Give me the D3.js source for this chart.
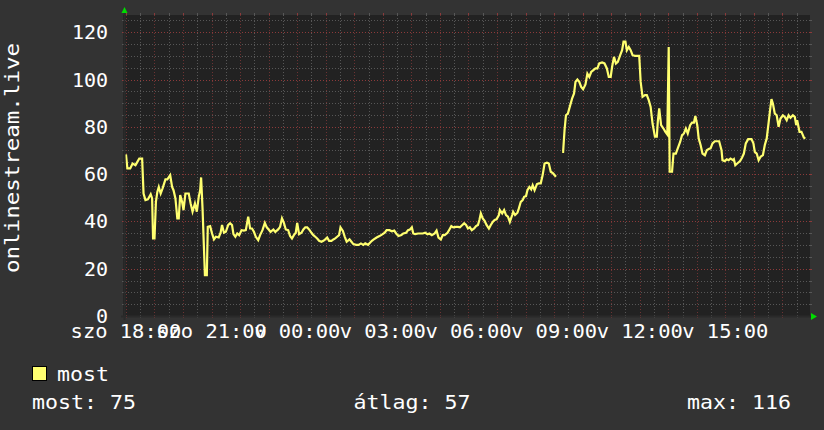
<!DOCTYPE html>
<html><head><meta charset="utf-8">
<script src="https://cdn.jsdelivr.net/npm/d3@7"></script>
<style>html,body{margin:0;padding:0;background:#333333;} svg{display:block}</style>
</head><body><svg id="c" width="824" height="430"></svg>
<script>
// minutes since Saturday 18:00
const sampleMinutes = [
0,3,9,14,20,24,28,34,37,41,
46,52,55,57,60,63,66,69,73,77,
83,87,93,97,100,104,108,111,114,118,
121,125,132,136,140,145,149,153,156,158,
161,166,170,172,177,181,185,189,195,199,
202,206,210,215,219,223,226,230,234,238,
243,248,252,257,261,265,269,273,278,282,
287,292,296,300,304,310,314,320,324,328,
332,336,341,345,349,353,357,360,364,369,
373,377,381,385,390,394,398,402,406,411,
415,419,423,427,432,436,440,444,448,451,
456,460,464,470,474,478,484,489,494,499,
503,509,513,517,521,527,533,538,544,548,
554,559,564,568,573,579,583,589,593,597,
601,604,608,614,618,624,629,634,638,643,
649,653,657,662,666,670,676,680,684,688,
694,698,702,706,711,715,719,723,727,732,
736,740,743,746,750,754,758,763,767,771,
775,779,784,786,791,795,799,803,807,812,
814,818,823,826,830,834,837,841,844,848,
852,855,859,864,868,872,876,880,885,889,
893,898,904,910,917,919,922,925,929,934,
938,942,945,949,953,957,961,966,970,974,
978,982,987,991,995,1001,1006,1011,1015,1019,
1022,1026,1030,1034,1039,1043,1046,1050,1053,1057,
1061,1065,1070,1075,1079,1082,1086,1091,1095,1099,
1103,1107,1112,1116,1118,1121,1125,1130,1134,1138,
1141,1143,1148,1151,1156,1160,1165,1169,1173,1177,
1181,1186,1190,1194,1197,1201,1204,1208,1212,1217,
1221,1225,1229,1233,1238,1242,1247,1252,1254,1259,
1263,1267,1271,1276,1278,1281,1285,1291,1295,1299,
1303,1308,1315,1319,1322,1326,1330,1334,1339,1343,
1347,1351,1354,1357,1360,1364,1368,1372,1376,1381,
1385,1389,1393,1397,1402,1406,1409,1411,1416,1420,
1423,1425,1428
];
const sampleValues = [
68.4,62.4,62.4,64.5,63.8,65.2,66.6,66.6,51.8,49,
49.3,51.5,49.7,32.8,32.8,48.3,52.5,54.6,51.8,54,
57.8,57.8,59.6,54.6,53.2,49.7,41.3,41.3,51.1,48.3,
44.8,51.8,51.8,47.6,44.1,47.6,44.1,50.4,53.2,58.6,
45.5,17.3,17.3,37.7,38,34.9,32.4,33.5,33.2,35.2,
38.5,35.2,35.6,38.5,39.2,38.5,34.6,33.5,34.9,34.2,
36.3,36.1,36.3,42,37,37,35.6,33.5,32.1,34.2,
36.3,39.4,37.5,36.6,35.6,36.6,35.6,36.6,37.7,41.3,
39.4,36.6,36.3,33.8,32.8,34.2,35.2,39.4,34.6,35.2,
36.6,37.5,37.5,36.6,35.2,34.2,33.5,32.8,31.8,31.4,
31.8,32.4,33.2,31.8,31.8,32.4,32.8,33.5,34.2,37.5,
36,33.5,31.4,32.4,31.4,30.4,30.1,30.1,30.7,30.1,
30.7,30.1,31,31.8,32.4,33.2,33.8,34.4,35.2,36.3,
36.3,35.8,36.1,34.9,33.8,34.2,34.9,35.2,36.3,36.6,
37.5,34.9,34.6,34.9,34.9,34.9,35.2,34.6,34.9,34.2,
34.9,36.1,33.2,32.4,34.2,34.2,35.2,36.6,38,37.5,
37.7,37.7,37.5,38.3,39.2,38.5,37,37.5,36.3,37,
38,38.5,40.6,43.4,41.3,40.3,38.5,37,38.5,39.8,
40.6,40.9,42.7,44.8,43.4,44.8,42.7,42,39.8,42.7,
44.1,42.7,43.7,45.5,48.3,49,50.4,50.7,53.2,54.6,
53.5,55.3,53.2,55.8,56.1,56.1,59.6,64.5,64.8,64.5,
61,60.3,58.9,null,69.4,69.4,78.6,84.9,85.6,89.2,
92,94.1,99,100,99,96.9,95.9,97.9,102.5,101.1,
103.2,103.9,104.7,104.7,106.8,107.2,106.8,104.7,101.1,101.1,
105.4,109.6,106.8,107.5,110.3,112.4,116,116,112.4,113.8,
112.4,110.3,110,110,110,99,92.7,93.4,93.4,91.3,
88.4,81.4,75.8,75.8,82.1,87.8,80.7,79.3,77.9,76.8,
113.8,61,61,68.7,68.7,70.9,73.6,76.5,77.2,79.3,
77.2,80.7,81.8,81.8,84.6,80.7,75.1,72.3,68.7,68,
70.1,70.6,70.9,73,73.9,73.9,73.9,70.1,65.9,65.5,
66.3,65.9,66.6,65.9,66.3,63.8,64.5,65.5,66.9,68.7,
73,74.8,74.8,73,69.4,68.7,65.9,67.3,68,72.3,
75.1,81.8,87,91.7,89.9,85.6,84.9,80,83.5,84.9,
84.2,82.8,84.9,83.8,84.9,84.2,80.7,82.8,77.9,77.9,
76.5,75.5,75
];
const yTicks = [0,20,40,60,80,100,120];
const xTickLabels = ["szo 18:00","szo 21:00","v 00:00","v 03:00","v 06:00","v 09:00","v 12:00","v 15:00"];
const yTitle = "onlinestream.live";
const seriesName = "most";
const statLabels = ["most","átlag","max"];
const statValues = [75,57,116];

const svg = d3.select("#c");
const FONT = "'DejaVu Sans Mono', monospace";
const base = new Date(2024,0,6,18,0,0);
const start = d3.timeMinute.offset(base,-2);
const end = d3.timeMinute.offset(base,1438);
const X0=125, X1=810, Y0=316, Y1=15;
const x = d3.scaleTime().domain([start,end]).range([X0,X1]);
const y = d3.scaleLinear().domain([0,127.3]).range([Y0,Y1]);

const GRID="#575757", MGRID="#8c3a3a", AXIS="#2a2a2a", ARROW="#00dd00", LINE="#ffff70";

svg.append("rect").attr("width",824).attr("height",430).attr("fill","#333333");
svg.append("rect").attr("x",123).attr("y",Y1).attr("width",X1-123).attr("height",Y0-Y1).attr("fill","#222222");

// horizontal grid
const hVals = d3.range(0,127.3,5);
hVals.forEach(v=>{
  const major = v%20===0;
  const yy = Math.round(y(v))+0.5;
  const c = major?MGRID:GRID;
  if (v>0) svg.append("line").attr("x1",X0).attr("x2",X1).attr("y1",yy).attr("y2",yy)
     .attr("stroke",c).attr("stroke-width",1).attr("stroke-dasharray","1,2");
  svg.append("line").attr("x1",X0-3).attr("x2",X0).attr("y1",yy).attr("y2",yy).attr("stroke",c);
  svg.append("line").attr("x1",X1).attr("x2",X1+2).attr("y1",yy).attr("y2",yy).attr("stroke",c);
});
// vertical grid
const vTimes = d3.timeMinute.every(30).range(start,end);
vTimes.forEach(t=>{
  const major = t.getMinutes()===0;
  const xx = Math.round(x(t))+0.5;
  const c = major?MGRID:GRID;
  svg.append("line").attr("x1",xx).attr("x2",xx).attr("y1",Y1).attr("y2",Y0)
     .attr("stroke",c).attr("stroke-opacity",major?0.7:1).attr("stroke-width",1).attr("stroke-dasharray","1,2");
  svg.append("line").attr("x1",xx).attr("x2",xx).attr("y1",Y0-1).attr("y2",Y0+2).attr("stroke",c);
  svg.append("line").attr("x1",xx).attr("x2",xx).attr("y1",Y1-2).attr("y2",Y1).attr("stroke",c);
});

// data line
const data = sampleMinutes.map((m,i)=>({t:d3.timeMinute.offset(base,m), v:sampleValues[i]}));
const line = d3.line().defined(d=>d.v!==null).x(d=>x(d.t)).y(d=>y(d.v));
svg.append("path").datum(data).attr("d",line).attr("fill","none")
   .attr("stroke",LINE).attr("stroke-width",2.2).attr("stroke-linejoin","miter");

// axes
svg.append("line").attr("x1",X0-4).attr("x2",X1+4).attr("y1",Y0+0.5).attr("y2",Y0+0.5).attr("stroke",AXIS).attr("stroke-width",2);
svg.append("line").attr("x1",X0-0.5).attr("x2",X0-0.5).attr("y1",Y0+4).attr("y2",Y1-4).attr("stroke",AXIS).attr("stroke-width",2);
svg.append("path").attr("d",`M${X1+1},${Y0-3} L${X1+7},${Y0+0.5} L${X1+1},${Y0+4} Z`).attr("fill",ARROW);
svg.append("path").attr("d",`M${X0-3.5},${Y1-2} L${X0-0.5},${Y1-8} L${X0+2.5},${Y1-2} Z`).attr("fill",ARROW);

// y tick labels
svg.selectAll(".yl").data(yTicks).enter().append("text")
  .attr("x",108).attr("y",d=>y(d)+7).attr("text-anchor","end")
  .attr("font-family",FONT).attr("font-size",20).attr("fill","#ffffff").text(d=>d);

// x tick labels every 3 hours
xTickLabels.forEach((lab,i)=>{
  const t = d3.timeHour.offset(base,3*i);
  svg.append("text").attr("x",x(t)).attr("y",338).attr("text-anchor","middle")
    .attr("font-family",FONT).attr("font-size",20).attr("fill","#ffffff")
    .attr("textLength",lab.length*12.3).attr("lengthAdjust","spacingAndGlyphs").text(lab);
});

// y title
svg.append("text").attr("transform","translate(19,158) rotate(-90)").attr("text-anchor","middle")
  .attr("font-family",FONT).attr("font-size",20).attr("fill","#ffffff")
  .attr("textLength",230).attr("lengthAdjust","spacingAndGlyphs").text(yTitle);

// legend
svg.append("rect").attr("x",32.5).attr("y",366.5).attr("width",14).attr("height",14)
  .attr("fill",LINE).attr("stroke","#000").attr("stroke-width",1);
svg.append("text").attr("x",57).attr("y",381).attr("font-family",FONT).attr("font-size",19.5)
  .attr("fill","#fff").attr("textLength",seriesName.length*13).attr("lengthAdjust","spacingAndGlyphs").text(seriesName);
const statX = [32, 353.5, 687];
statLabels.forEach((l,i)=>{
  const s = l+": "+statValues[i];
  svg.append("text").attr("x",statX[i]).attr("y",409).attr("font-family",FONT).attr("font-size",19.5)
    .attr("fill","#fff").attr("textLength",s.length*13).attr("lengthAdjust","spacingAndGlyphs").text(s);
});
</script></body></html>
